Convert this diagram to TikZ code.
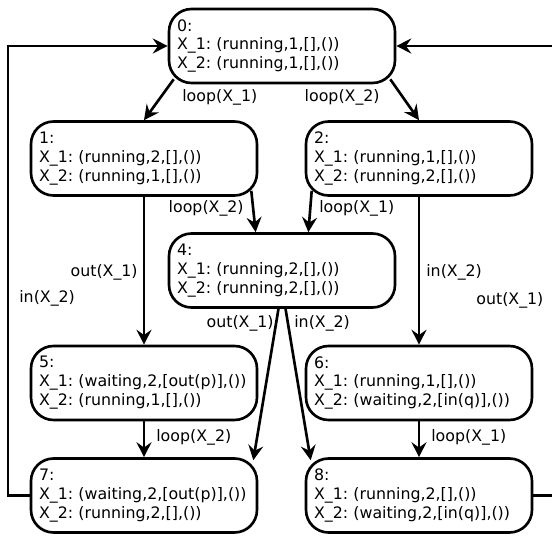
\documentclass[tikz,border=0pt]{standalone}
\usepackage{fontspec}
\setmainfont{DejaVu Sans}
\usetikzlibrary{arrows.meta}
\frenchspacing
\hyphenpenalty=10000

\begin{document}
\begin{tikzpicture}[x=0.02cm, y=-0.02cm,
	state/.style={draw, line width=1.5pt, rounded corners=0.45cm, minimum width=4.52cm, minimum height=1.48cm, text width=4.2cm, inner xsep=0.16cm, inner ysep=0pt, align=left, font=\fontsize{9}{10.8}\selectfont},
	lbl/.style={inner sep=0pt, font=\fontsize{9}{10.8}\selectfont},
	arr/.style={-{Stealth[length=8.5pt, width=8.5pt, inset=3pt]}, line width=1.5pt}]
		\path[use as bounding box] (0,0) rectangle (552,536);
		\clip (0,0) rectangle (552,536);
		% states
		\node[state] (n0) at (282,46) {0:\\X\_1:~(running,1,[],())\\X\_2:~(running,1,[],())};
		\node[state] (n1) at (144,158.5) {1:\\X\_1:~(running,2,[],())\\X\_2:~(running,1,[],())};
		\node[state] (n2) at (419,158.5) {2:\\X\_1:~(running,1,[],())\\X\_2:~(running,2,[],())};
		\node[state] (n4) at (282,270.5) {4:\\X\_1:~(running,2,[],())\\X\_2:~(running,2,[],())};
		\node[state] (n5) at (144,383) {5:\\X\_1:~(waiting,2,[out(p)],())\\X\_2:~(running,1,[],())};
		\node[state] (n6) at (419,383) {6:\\X\_1:~(running,1,[],())\\X\_2:~(waiting,2,[in(q)],())};
		\node[state] (n7) at (144,495.5) {7:\\X\_1:~(waiting,2,[out(p)],())\\X\_2:~(running,2,[],())};
		\node[state] (n8) at (419,495.5) {8:\\X\_1:~(running,2,[],())\\X\_2:~(waiting,2,[in(q)],())};
		\coordinate (cl) at (8,46);
		\coordinate (cr) at (557,46);
		% transitions
		\draw[arr] ([shift={(6,-5)}]n0.south west) -- (n1.north);
		\draw[arr] ([shift={(-6,-5)}]n0.south east) -- (n2.north);
		\draw[arr] ([shift={(-7,-6)}]n1.south east) -- ([xshift=-15]n4.north);
		\draw[arr] ([shift={(7,-6)}]n2.south west) -- ([xshift=15]n4.north);
		\draw[arr] (n1.south) -- (n5.north);
		\draw[arr] (n2.south) -- (n6.north);
		\draw[arr] ([xshift=-2]n4.south) -- ([shift={(-5,3)}]n7.north east);
		\draw[arr] ([xshift=2]n4.south) -- ([shift={(6,3)}]n8.north west);
		\draw[arr] (n5.south) -- (n7.north);
		\draw[arr] (n6.south) -- (n8.north);
		\draw[arr] (n7.west) -| (cl) -- (n0.west);
		\draw[arr] (n8.east) -| (cr) -- (n0.east);
		% labels
		\node[lbl, anchor=west] (l01) at (182,97) {loop(X\_1)};
		\node[lbl, anchor=east] (l02) at (380,97) {loop(X\_2)};
		\node[lbl, anchor=east] (l14) at (244,208) {loop(X\_2)};
		\node[lbl, anchor=west] (l24) at (319,208) {loop(X\_1)};
		\node[lbl, anchor=east] (l15) at (138,272) {out(X\_1)};
		\node[lbl, anchor=west] (l70) at (19,298) {in(X\_2)};
		\node[lbl, anchor=west] (l26) at (426,272) {in(X\_2)};
		\node[lbl, anchor=west] (l80) at (476,300) {out(X\_1)};
		\node[lbl, anchor=east] (l47) at (274,323) {out(X\_1)};
		\node[lbl, anchor=west] (l48) at (294,323) {in(X\_2)};
		\node[lbl, anchor=west] (l57) at (156,437) {loop(X\_2)};
		\node[lbl, anchor=west] (l68) at (431,437) {loop(X\_1)};
	\end{tikzpicture}
\end{document}
